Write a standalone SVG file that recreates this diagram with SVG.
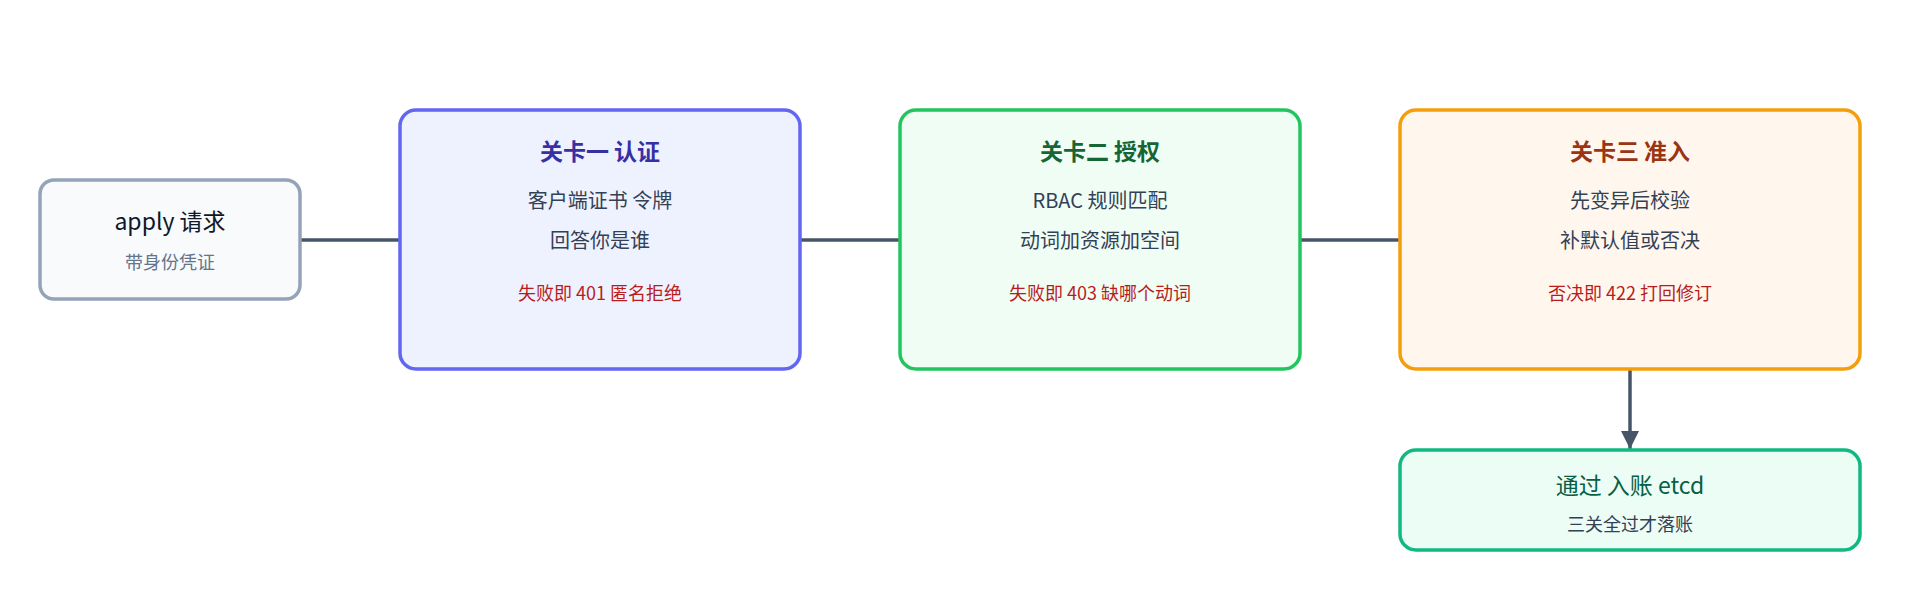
<svg xmlns="http://www.w3.org/2000/svg" width="1920" height="600" viewBox="0 0 1920 600">
<defs>
<marker id="arr" viewBox="0 0 10 10" refX="9" refY="5" markerWidth="8" markerHeight="8" markerUnits="userSpaceOnUse" orient="auto"><path d="M0,0 L10,5 L0,10 z" fill="#475569"/></marker>
<marker id="a2" viewBox="0 0 10 10" refX="10" refY="5" markerWidth="22" markerHeight="18" markerUnits="userSpaceOnUse" orient="auto"><path d="M0,0 L10,5 L0,10 z" fill="#475569"/></marker>
</defs>
<style>
text{font-family:"Noto Sans CJK SC","Noto Sans",sans-serif;text-anchor:middle}
.b{stroke-width:3.5}
.t{font-size:23px;font-weight:bold}
.m{font-size:20px;fill:#334155}
.r{font-size:18px;fill:#b91c1c}
.c{stroke:#475569;stroke-width:3.5;fill:none}
</style>
<rect width="1920" height="600" fill="#fff"/>
<g id="connectors">
<line class="c" x1="300" y1="240" x2="400" y2="240"/>
<line class="c" x1="800" y1="240" x2="900" y2="240"/>
<line class="c" x1="1300" y1="240" x2="1400" y2="240"/>
<line class="c" x1="1630" y1="369" x2="1630" y2="449" marker-end="url(#a2)"/>
</g>
<g id="apply">
<rect class="b" x="40" y="180" width="260" height="119" rx="14" fill="#f8fafc" stroke="#94a3b8"/>
<text x="170" y="230" font-size="23" fill="#0f172a">apply 请求</text>
<text x="170" y="269" font-size="18" fill="#64748b">带身份凭证</text>
</g>
<g id="gate1">
<rect class="b" x="400" y="110" width="400" height="259" rx="16" fill="#eef2ff" stroke="#6366f1"/>
<text class="t" x="600" y="160" fill="#3730a3">关卡一 认证</text>
<text class="m" x="600" y="208">客户端证书 令牌</text>
<text class="m" x="600" y="248">回答你是谁</text>
<text class="r" x="600" y="300">失败即 401 匿名拒绝</text>
</g>
<g id="gate2">
<rect class="b" x="900" y="110" width="400" height="259" rx="16" fill="#f0fdf4" stroke="#22c55e"/>
<text class="t" x="1100" y="160" fill="#166534">关卡二 授权</text>
<text class="m" x="1100" y="208">RBAC 规则匹配</text>
<text class="m" x="1100" y="248">动词加资源加空间</text>
<text class="r" x="1100" y="300">失败即 403 缺哪个动词</text>
</g>
<g id="gate3">
<rect class="b" x="1400" y="110" width="460" height="259" rx="16" fill="#fff7ed" stroke="#f59e0b"/>
<text class="t" x="1630" y="160" fill="#9a3412">关卡三 准入</text>
<text class="m" x="1630" y="208">先变异后校验</text>
<text class="m" x="1630" y="248">补默认值或否决</text>
<text class="r" x="1630" y="300">否决即 422 打回修订</text>
</g>
<g id="etcd">
<rect class="b" x="1400" y="450" width="460" height="100" rx="16" fill="#ecfdf5" stroke="#10b981"/>
<text x="1630" y="494" font-size="23" fill="#065f46">通过 入账 etcd</text>
<text x="1630" y="531" font-size="18" fill="#334155">三关全过才落账</text>
</g>
</svg>
